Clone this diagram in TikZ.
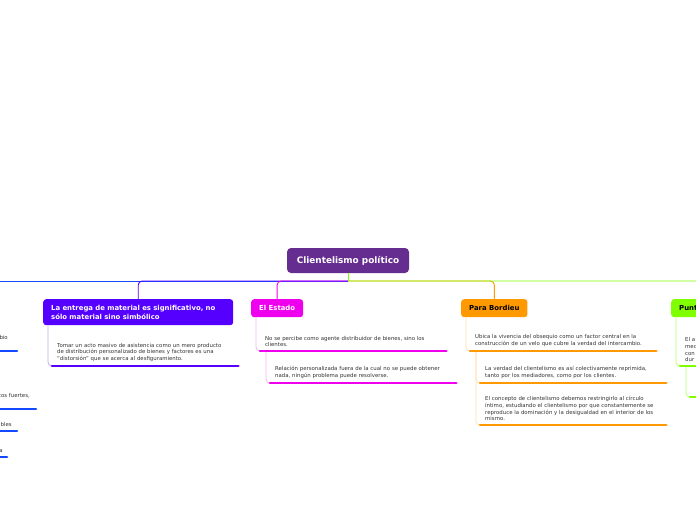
\documentclass[tikz,border=0pt]{standalone}
\usepackage{fontspec}
\setmainfont{DejaVu Sans}
\definecolor{rootc}{HTML}{662D91}
\definecolor{bluec}{HTML}{1448FF}
\definecolor{violc}{HTML}{5500FF}
\definecolor{magc}{HTML}{EE00EE}
\definecolor{orac}{HTML}{FF9900}
\definecolor{grnc}{HTML}{80FF00}
\definecolor{inkc}{HTML}{333333}
\begin{document}
\begin{tikzpicture}[
    x=1pt, y=-1pt,
    every node/.style={font=\fontsize{5.4}{6.7}\selectfont, text=inkc},
    root/.style={
        fill=rootc, rounded corners=4pt, text=white,
        minimum width=122pt, minimum height=25pt,
        font=\fontsize{8.9}{10}\selectfont\bfseries
    },
    topic/.style={
        fill=#1, rounded corners=3pt, anchor=north west,
        minimum height=18pt, inner xsep=8pt, align=left, text=white,
        font=\fontsize{6.9}{8.5}\selectfont\bfseries
    },
    leaf/.style={
        anchor=south west, text width=176pt,
        inner xsep=5pt, inner ysep=4pt, align=left
    },
    frag/.style={anchor=base east, inner sep=0pt},
    uline/.style={line width=2.6pt, line cap=round},
    branch/.style={line width=0.9pt, rounded corners=4pt},
    twig/.style={line width=0.8pt, rounded corners=4pt}
]
\useasboundingbox (0,0) rectangle (696,520);
\clip (0,0) rectangle (696,520);

% Central topic
\node[root] (root) at (348,260.5) {Clientelismo político};
\coordinate (hub) at (348,281);

% Main topics
\node[topic=violc, text width=174pt, minimum height=26pt] (t1) at (43,299)
    {La entrega de material es significativo, no\\sólo material sino simbólico};
\node[topic=magc] (t2) at (251,299) {El Estado};
\node[topic=orac, text=black] (t3) at (461,299) {Para Bordieu};
\node[topic=grnc, text=black, text width=64pt] (t4) at (671,299) {Punt};

% Subtopics
\node[leaf] (l1) at (52,366)
    {Tomar un acto masivo de asistencia como un mero producto\\
     de distribución personalizado de bienes y factores es una\\
     ``distorsión'' que se acerca al desfiguramiento.};
\node[leaf] (l2) at (260,351)
    {No se percibe como agente distribuidor de bienes, sino los\\clientes.};
\node[leaf] (l3) at (270,383)
    {Relación personalizada fuera de la cual no se puede obtener\\
     nada, ningún problema puede resolverse.};
\node[leaf] (l4) at (470,351)
    {Ubica la vivencia del obsequio como un factor central en la\\
     construcción de un velo que cubre la verdad del intercambio.};
\node[leaf] (l5) at (480,383)
    {La verdad del clientelismo es así colectivamente reprimida,\\
     tanto por los mediadores, como por los clientes.};
\node[leaf] (l6) at (480,425)
    {El concepto de clientelismo debemos restringirlo al círculo\\
     íntimo, estudiando el clientelismo por que constantemente se\\
     reproduce la dominación y la desigualdad en el interior de los\\
     mismo.};
\node[leaf] (l7) at (680,366) {El a\\med\\con\\dur};
\node[leaf] (l8) at (690,397) {};

% Cut-off branch on the left
\node[frag] (f1) at (8,339) {bio};
\node[frag] (f2) at (30,397) {cos fuertes,};
\node[frag] (f3) at (12,426) {bles};
\node[frag] (f4) at (3,452) {a};
\coordinate (e1) at (17,351);
\coordinate (e2) at (36,409);
\coordinate (e3) at (17,431);
\coordinate (e4) at (7,457);

% Main connectors
\draw[branch, bluec] (hub) -- (-20,281);
\draw[branch, violc] (hub) -| (t1.north);
\draw[branch, magc] (hub) -| (t2.north);
\draw[branch, orac] (hub) -| (t3.north);
\draw[branch, grnc] (hub) -| (t4.north);
\draw[branch, grnc] (root.south) -- (hub);

% Subtopic connectors
\draw[twig, violc!35] ([xshift=5pt]t1.south west) |- (l1.south west);
\draw[twig, magc!30] ([xshift=5pt]t2.south west) |- (l2.south west);
\draw[twig, magc!30] ([xshift=6pt]l2.south west) |- (l3.south west);
\draw[twig, orac!30] ([xshift=5pt]t3.south west) |- (l4.south west);
\draw[twig, orac!30] ([xshift=6pt]l4.south west) |- (l5.south west);
\draw[twig, orac!30] ([xshift=6pt]l4.south west) |- (l6.south west);
\draw[twig, grnc!55] ([xshift=5pt]t4.south west) |- (l7.south west);
\draw[twig, grnc!55] ([xshift=6pt]l7.south west) |- (l8.south west);

% Underlines
\foreach \n/\c in {l1/violc, l2/magc, l3/magc, l4/orac, l5/orac, l6/orac, l7/grnc}
    \draw[uline, \c] (\n.south west) -- (\n.south east);
\draw[uline, grnc] (l8.south west) -- ++(20,0);
\foreach \e in {e1, e2, e3, e4}
    \draw[uline, bluec] (\e) -- ++(-40,0);

\end{tikzpicture}
\end{document}
